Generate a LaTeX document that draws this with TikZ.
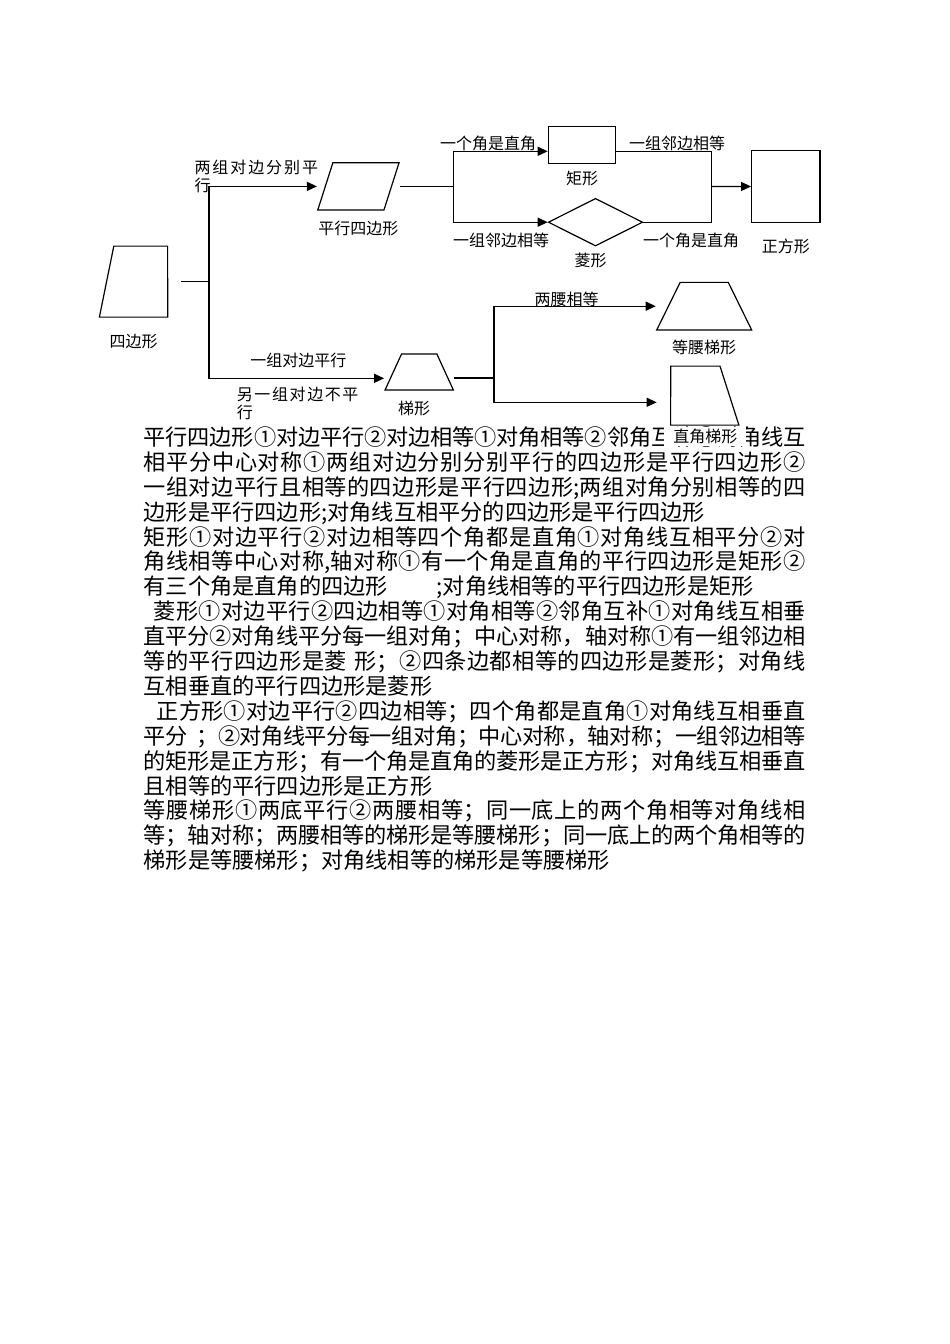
\documentclass[tikz,border=0pt]{standalone}
\usepackage{fontspec}
\setmainfont{Noto Sans CJK SC}
\usetikzlibrary{shapes.geometric,arrows.meta,calc}
\XeTeXlinebreaklocale "zh"
\XeTeXlinebreakpenalty=10000
\XeTeXlinebreakskip=0pt plus 6pt minus 1pt
\newcommand\bodyfont{\fontsize{22.2}{24.9}\selectfont}
\newcommand\labelfont{\fontsize{16}{18.3}\selectfont}
\newcommand\fullrow[1]{\noindent\parfillskip=0pt\relax#1\par}
\begin{document}
\begin{tikzpicture}[x=1pt,y=-1pt]
    \tikzstyle{arrow} = [line width=1.2pt,-{Triangle[length=10pt,width=9pt]}]
    \tikzstyle{link} = [line width=1.2pt]
    \tikzstyle{figshape} = [draw, line width=1.2pt, inner sep=0pt]
    \tikzstyle{trap} = [figshape, trapezium, inner sep=1pt, trapezium stretches=true]
    \tikzstyle{cond} = [font=\labelfont, inner sep=0pt]
    \tikzstyle{bodyline} = [anchor=base west, inner sep=0pt, font=\bodyfont]
    \tikzstyle{fullline} = [bodyline, text width=662pt, align=justify]
    \tikzset{every label/.style={inner sep=0pt, font=\labelfont}}

    % Page
    \useasboundingbox (0,0) rectangle (950,1344);
    \fill [white] (0,0) rectangle (950,1344);

    % Notes under the chart
    \node [fullline] (Note1) at (143.5,445.4) {\fullrow{平行四边形①对边平行②对边相等①对角相等②邻角互补①对角线互}};
    \node [fullline] (Note2) at (143.5,470.3) {\fullrow{相平分中心对称①两组对边分别分别平行的四边形是平行四边形②}};
    \node [fullline] (Note3) at (143.5,495.2) {\fullrow{一组对边平行且相等的四边形是平行四边形;两组对角分别相等的四}};
    \node [bodyline] (Note4) at (143.5,520.1) {边形是平行四边形;对角线互相平分的四边形是平行四边形};
    \node [fullline] (Note5) at (143.5,545.0) {\fullrow{矩形①对边平行②对边相等四个角都是直角①对角线互相平分②对}};
    \node [fullline] (Note6) at (143.5,569.9) {\fullrow{角线相等中心对称,轴对称①有一个角是直角的平行四边形是矩形②}};
    \node [bodyline] (Note7) at (143.5,594.8) {有三个角是直角的四边形\hspace{2.2em};对角线相等的平行四边形是矩形};
    \node [fullline] (Note8) at (143.5,619.7) {\fullrow{\hspace*{10pt}菱形①对边平行②四边相等①对角相等②邻角互补①对角线互相垂}};
    \node [fullline] (Note9) at (143.5,644.6) {\fullrow{直平分②对角线平分每一组对角；中心对称，轴对称①有一组邻边相}};
    \node [fullline] (Note10) at (143.5,669.5) {\fullrow{等的平行四边形是菱\hspace{0.35em}形；②四条边都相等的四边形是菱形；对角线}};
    \node [bodyline] (Note11) at (143.5,694.4) {互相垂直的平行四边形是菱形};
    \node [fullline] (Note12) at (143.5,719.3) {\fullrow{\hspace*{13pt}正方形①对边平行②四边相等；四个角都是直角①对角线互相垂直}};
    \node [fullline] (Note13) at (143.5,744.2) {\fullrow{平分\hspace{0.4em}；②对角线平分每一组对角；中心对称，轴对称；一组邻边相等}};
    \node [fullline] (Note14) at (143.5,769.1) {\fullrow{的矩形是正方形；有一个角是直角的菱形是正方形；对角线互相垂直}};
    \node [bodyline] (Note15) at (143.5,794.0) {且相等的平行四边形是正方形};
    \node [fullline] (Note16) at (143.5,818.9) {\fullrow{等腰梯形①两底平行②两腰相等；同一底上的两个角相等对角线相}};
    \node [fullline] (Note17) at (143.5,843.8) {\fullrow{等；轴对称；两腰相等的梯形是等腰梯形；同一底上的两个角相等的}};
    \node [bodyline] (Note18) at (143.5,868.7) {梯形是等腰梯形；对角线相等的梯形是等腰梯形};

    % Quadrilateral
    \node [trap, trapezium left angle=75, trapezium right angle=89.9, minimum width=68.3pt, minimum height=71pt, anchor=bottom right corner, label={[label distance=16pt, xshift=-7pt]-90:四边形}] (Quad) at (168.3,317.7) {};
    \coordinate (ForkQ) at ($(Quad.east)+(40.7,0)$);
    \draw [link] ([xshift=13pt]Quad.east) -- (ForkQ);

    % Parallelogram
    \node [trap, trapezium left angle=73.5, trapezium right angle=106.5, minimum width=81.3pt, minimum height=47.3pt, label={[label distance=10pt]-90:平行四边形}] (Para) at (358.4,186.4) {};
    \draw [arrow] (ForkQ) |- (Para.bottom left corner |- Para.center);
    \node [cond, anchor=north west, align=left, font=\labelfont\addfontfeature{LetterSpace=12}] (BothPairs) at (194.3,159.7) {两组对边分别平\\行};

    % Trapezoid
    \node [trap, trapezium left angle=65, trapezium right angle=65, minimum width=68.3pt, minimum height=36pt, label={[label distance=10pt, xshift=-5pt]-90:梯形}] (Trap) at (419.2,372) {};
    \draw [arrow] (ForkQ) |- ($(Trap.bottom left corner)+(0,-12.3)$);
    \node [cond] (OnePair) at (298.3,360) {一组对边平行};
    \node [cond, anchor=north west, align=left, font=\labelfont\addfontfeature{LetterSpace=10}] (OtherPair) at (236.7,387) {另一组对边不平\\行};

    % Rectangle
    \node [figshape, minimum width=67.4pt, minimum height=36.6pt, label={[label distance=7pt]-90:矩形}] (Rect) at (582,145) {};

    % Rhombus
    \node [figshape, diamond, minimum width=94.4pt, minimum height=47.7pt, label={[label distance=6pt, xshift=-5pt]-90:菱形}] (Rhomb) at (595.5,222.2) {};
    \coordinate (ForkP) at (453.3,186.4);
    \draw [link] (Para.top right corner |- Para.center) -- (ForkP);
    \draw [arrow] (ForkP) |- ($(Rect.south west)+(0,-12.6)$);
    \draw [arrow] (ForkP) |- (Rhomb.west);
    \node [cond] (RightAngleA) at (488,143) {一个角是直角};
    \node [cond] (AdjEqualA) at (501,240) {一组邻边相等};

    % Square
    \node [figshape, minimum width=68.3pt, minimum height=71.6pt, label={[label distance=16pt]-90:正方形}] (Square) at (785.8,186.5) {};
    \coordinate (JoinS) at (711.7,186.4);
    \draw [link] ($(Rect.south east)+(0,-12.6)$) -| (JoinS |- Rhomb.east) -- (Rhomb.east);
    \draw [arrow] (JoinS) -- (Square.west);
    \node [cond] (AdjEqualB) at (677,143) {一组邻边相等};
    \node [cond] (RightAngleB) at (691,240) {一个角是直角};

    % Isosceles trapezoid
    \node [trap, trapezium left angle=64, trapezium right angle=64, minimum width=95pt, minimum height=47.7pt, label={[label distance=9pt]-90:等腰梯形}] (IsoTrap) at (704.2,306.2) {};
    \coordinate (ForkT) at (494,378);
    \draw [link] (Trap.bottom right corner |- ForkT) -- (ForkT);
    \draw [arrow] (ForkT) |- (IsoTrap.bottom left corner |- IsoTrap.center);
    \node [cond] (LegsEqual) at (566.7,299.3) {两腰相等};

    % Right trapezoid, its label sits over the first note line
    \node [trap, trapezium left angle=89.9, trapezium right angle=69, minimum width=68.3pt, minimum height=59pt, anchor=bottom left corner, label={[fill=white, inner xsep=9pt, inner ysep=2pt, label distance=1pt, xshift=10pt]-90:直角梯形}] (RightTrap) at (670,425.7) {};
    \draw [arrow] (ForkT) |- ($(RightTrap.bottom left corner)+(-13.3,-23.4)$);
\end{tikzpicture}
\end{document}
